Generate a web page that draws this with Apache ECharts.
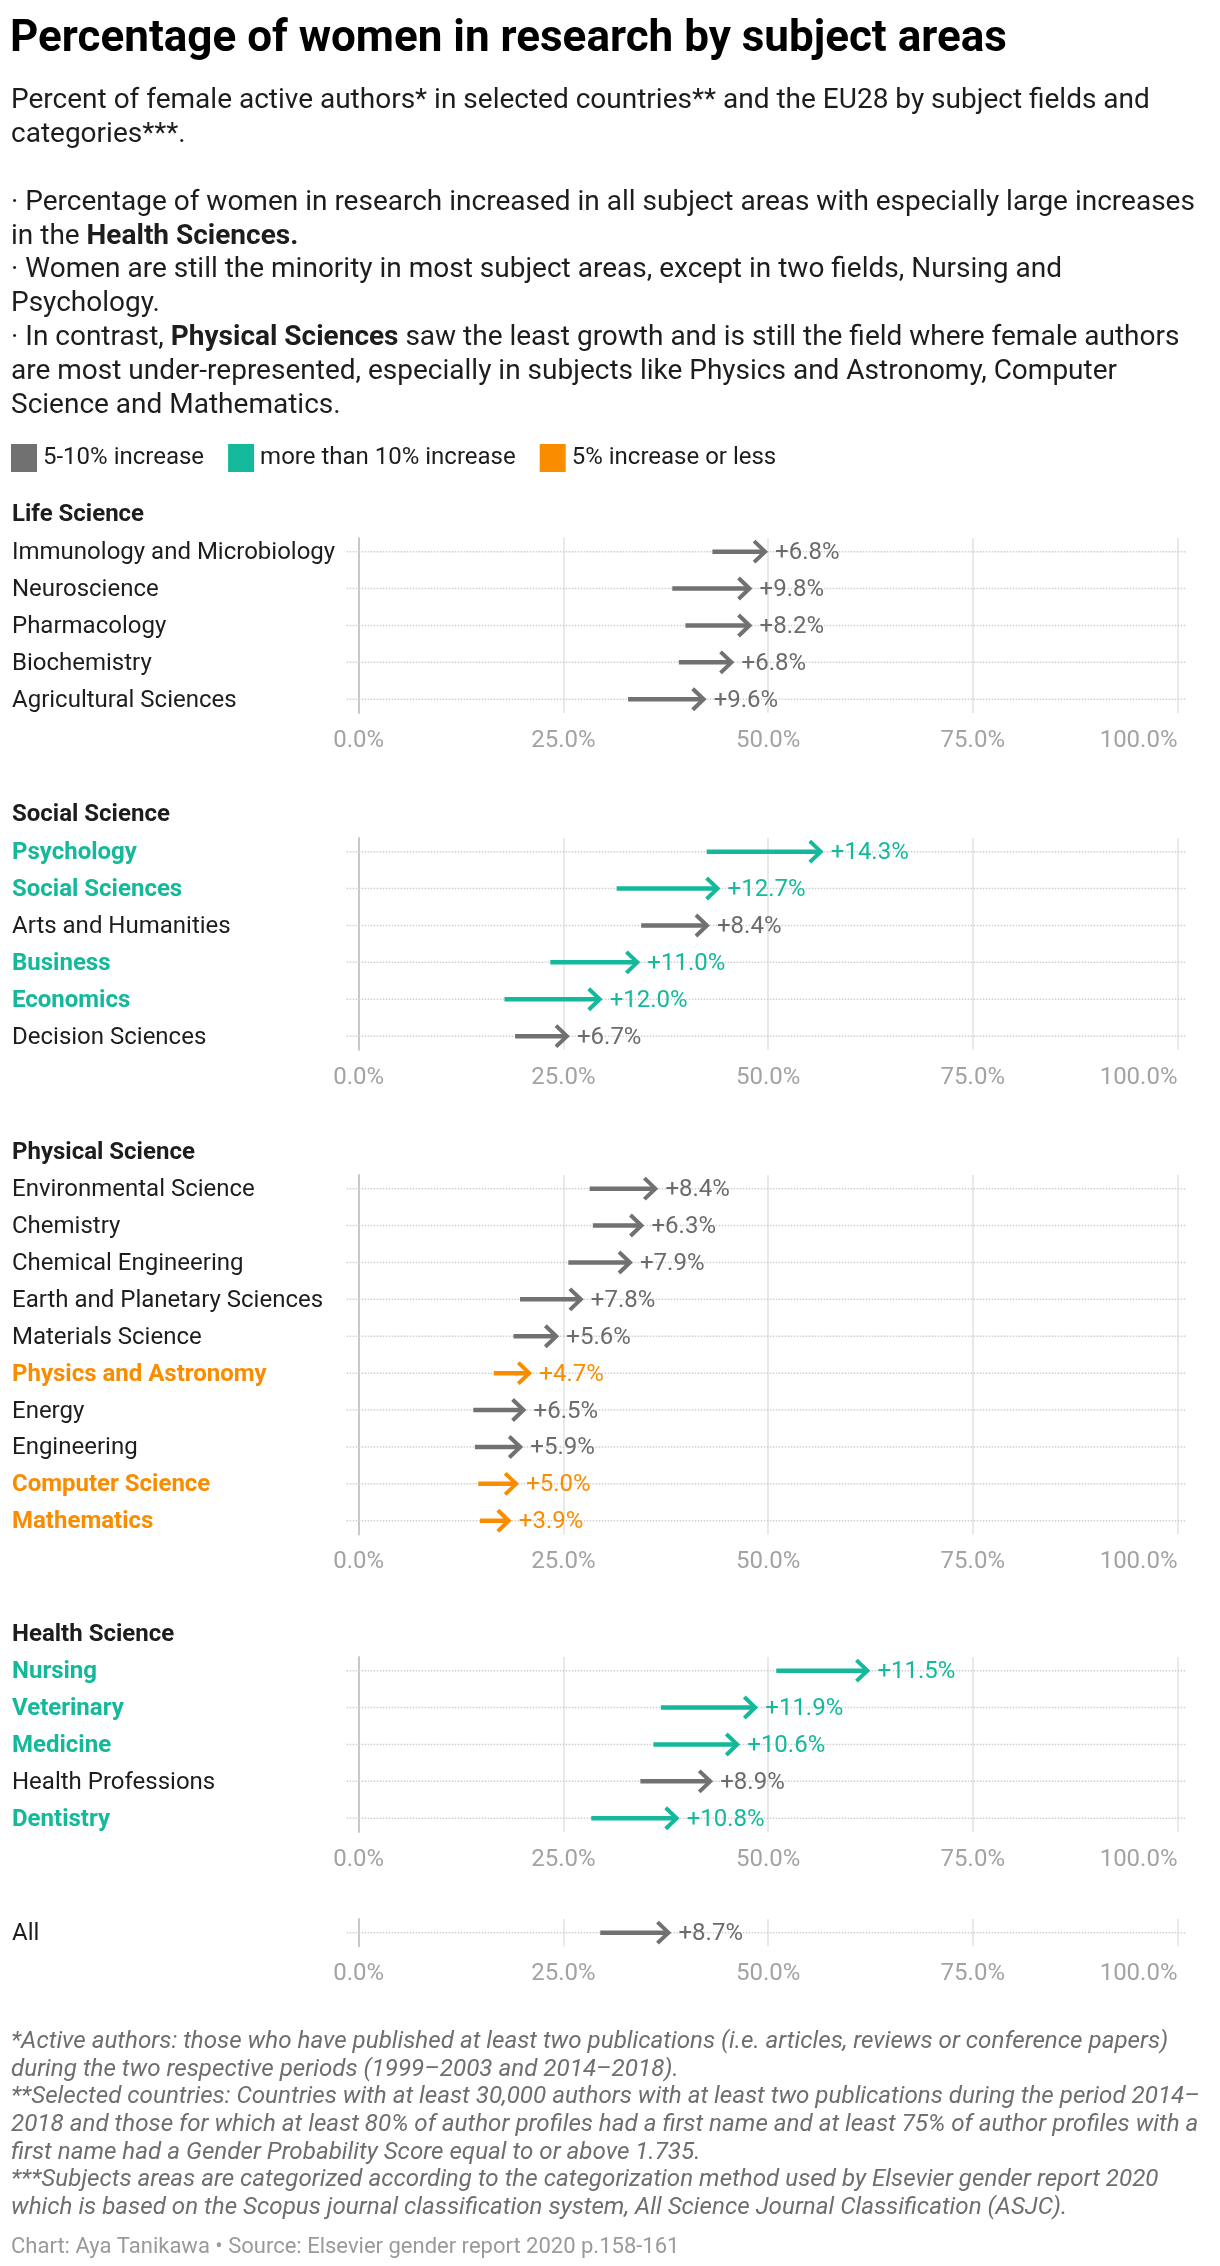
<!DOCTYPE html>
<html>
<head>
<meta charset="utf-8">
<script src="https://cdn.jsdelivr.net/npm/echarts@6/dist/echarts.min.js"></script>
<style>
html,body{margin:0;padding:0;background:#fff;}
#chart{width:1220px;height:2266px;}
</style>
</head>
<body>
<div id="chart"></div>
<script>
// ---------- DATA (percent of female active authors: 1999-2003 -> 2014-2018) ----------
const lifeCategories = ['Immunology and Microbiology','Neuroscience','Pharmacology','Biochemistry','Agricultural Sciences'];
const lifeStart  = [43.2, 38.3, 39.9, 39.1, 32.9];
const lifeEnd    = [50.0, 48.1, 48.1, 45.9, 42.5];
const lifeChange = [6.8, 9.8, 8.2, 6.8, 9.6];

const socialCategories = ['Psychology','Social Sciences','Arts and Humanities','Business','Economics','Decision Sciences'];
const socialStart  = [42.5, 31.5, 34.5, 23.4, 17.8, 19.1];
const socialEnd    = [56.8, 44.2, 42.9, 34.4, 29.8, 25.8];
const socialChange = [14.3, 12.7, 8.4, 11.0, 12.0, 6.7];

const physicalCategories = ['Environmental Science','Chemistry','Chemical Engineering','Earth and Planetary Sciences','Materials Science','Physics and Astronomy','Energy','Engineering','Computer Science','Mathematics'];
const physicalStart  = [28.2, 28.6, 25.6, 19.7, 18.9, 16.5, 14.0, 14.2, 14.6, 14.8];
const physicalEnd    = [36.6, 34.9, 33.5, 27.5, 24.5, 21.2, 20.5, 20.1, 19.6, 18.7];
const physicalChange = [8.4, 6.3, 7.9, 7.8, 5.6, 4.7, 6.5, 5.9, 5.0, 3.9];

const healthCategories = ['Nursing','Veterinary','Medicine','Health Professions','Dentistry'];
const healthStart  = [51.0, 36.9, 36.0, 34.4, 28.4];
const healthEnd    = [62.5, 48.8, 46.6, 43.3, 39.2];
const healthChange = [11.5, 11.9, 10.6, 8.9, 10.8];

const allCategories = ['All'];
const allStart  = [29.5];
const allEnd    = [38.2];
const allChange = [8.7];

const xTickValues = [0, 25, 50, 75, 100];
const legendNames = ['5-10% increase', 'more than 10% increase', '5% increase or less'];
const panelTitles = ['Life Science', 'Social Science', 'Physical Science', 'Health Science', ''];

// ---------- STYLE ----------
const FONT = 'Roboto';
const COLORS = { gray: '#717171', teal: '#13b99a', orange: '#fa8c00' };
const LEGEND_COLORS = [COLORS.gray, COLORS.teal, COLORS.orange];
function bucket(c) { return c > 10 ? 'teal' : (c > 5 ? 'gray' : 'orange'); }

const ROW = 36.9, PAD = 0.37;
const GRID_LEFT = 358.7, GRID_RIGHT = 42.5;
const TEXT_DY = 1.5;

const panels = [
  { title: panelTitles[0], headerY: 515,  top: 538,  cats: lifeCategories,     start: lifeStart,     end: lifeEnd,     change: lifeChange },
  { title: panelTitles[1], headerY: 815,  top: 838,  cats: socialCategories,   start: socialStart,   end: socialEnd,   change: socialChange },
  { title: panelTitles[2], headerY: 1153, top: 1175, cats: physicalCategories, start: physicalStart, end: physicalEnd, change: physicalChange },
  { title: panelTitles[3], headerY: 1635, top: 1657, cats: healthCategories,   start: healthStart,   end: healthEnd,   change: healthChange },
  { title: panelTitles[4], headerY: 0,    top: 1919, cats: allCategories,      start: allStart,      end: allEnd,      change: allChange }
];

const grid = [], xAxis = [], yAxis = [], series = [];
const titles = [];

titles.push({
  text: 'Percentage of women in research by subject areas',
  left: 10, top: 16, padding: 0,
  textStyle: { fontFamily: FONT, fontSize: 44, fontWeight: 'bold', color: '#000', lineHeight: 48 }
});

const subLines = [
  'Percent of female active authors* in selected countries** and the EU28 by subject fields and',
  'categories***.',
  ' ',
  '· Percentage of women in research increased in all subject areas with especially large increases',
  'in the {b|Health Sciences.}',
  '· Women are still the minority in most subject areas, except in two fields, Nursing and',
  'Psychology.',
  '· In contrast, {b|Physical Sciences} saw the least growth and is still the field where female authors',
  'are most under-represented, especially in subjects like Physics and Astronomy, Computer',
  'Science and Mathematics.'
];
titles.push({
  text: subLines.join('\n'),
  left: 11, top: 84, padding: 0,
  textStyle: {
    fontFamily: FONT, fontSize: 28, fontWeight: 'normal', color: '#1d1d1d', lineHeight: 33.9,
    rich: { b: { fontFamily: FONT, fontSize: 28, fontWeight: 'bold', color: '#1d1d1d', lineHeight: 33.9 } }
  }
});

panels.forEach((p, i) => {
  const n = p.cats.length;
  if (p.title) {
    titles.push({
      text: p.title, left: 12, top: p.headerY - 13, padding: 0,
      textStyle: { fontFamily: FONT, fontSize: 24, fontWeight: 'bold', color: '#1d1d1d', lineHeight: 26 }
    });
  }
  grid.push({ left: GRID_LEFT, right: GRID_RIGHT, top: p.top, height: (n - 1 + 2 * PAD) * ROW, containLabel: false });
  xAxis.push({
    gridIndex: i, type: 'value', min: xTickValues[0], max: xTickValues[xTickValues.length - 1], interval: 25,
    axisLine: { show: false }, axisTick: { show: false },
    splitLine: { show: true, lineStyle: { color: '#e2e2e2', width: 1.5 } },
    axisLabel: {
      formatter: v => v.toFixed(1) + '%', color: '#a3a3a3', fontFamily: FONT, fontSize: 24,
      margin: 16, alignMaxLabel: 'right'
    }
  });
  yAxis.push({
    gridIndex: i, type: 'value', inverse: true, min: -PAD, max: n - 1 + PAD,
    axisLine: { show: true, onZero: false, lineStyle: { color: '#c8c8c8', width: 2 } },
    axisTick: { show: false }, axisLabel: { show: false }, splitLine: { show: false }
  });
  const data = p.cats.map((c, j) => [p.start[j], p.end[j], j, p.change[j]]);
  series.push({
    type: 'custom', xAxisIndex: i, yAxisIndex: i, name: 'panel' + i,
    encode: { x: [0, 1], y: 2 },
    data: data,
    silent: true,
    renderItem: (params, api) => {
      const j = params.dataIndex;
      const s = api.coord([api.value(0), api.value(2)]);
      const e = api.coord([api.value(1), api.value(2)]);
      const ch = api.value(3);
      const b = bucket(ch);
      const col = COLORS[b];
      const cs = params.coordSys;
      const y = s[1];
      const name = p.cats[j];
      return {
        type: 'group',
        children: [
          { type: 'line', z2: 0, shape: { x1: cs.x - 12, y1: y, x2: cs.x + cs.width + 8, y2: y },
            style: { stroke: '#cfcfcf', lineWidth: 1.5, lineDash: [1.5, 1.5] } },
          { type: 'line', z2: 2, shape: { x1: s[0], y1: y, x2: e[0] - 3, y2: y },
            style: { stroke: col, lineWidth: 4.5, lineCap: 'butt' } },
          { type: 'polyline', z2: 2, shape: { points: [[e[0] - 14, y - 10.5], [e[0] - 3, y], [e[0] - 14, y + 10.5]] },
            style: { stroke: col, lineWidth: 4, fill: null, lineJoin: 'miter', lineCap: 'butt' } },
          { type: 'text', z2: 3, x: e[0] + 7, y: y + TEXT_DY,
            style: { text: '+' + ch.toFixed(1) + '%', fill: b === 'gray' ? '#6b6b6b' : col,
              fontFamily: FONT, fontSize: 24, align: 'left', verticalAlign: 'middle' } },
          { type: 'text', z2: 3, x: 12, y: y + TEXT_DY,
            style: { text: name, fill: b === 'gray' ? '#1d1d1d' : col, fontFamily: FONT, fontSize: 24,
              fontWeight: b === 'gray' ? 'normal' : 'bold', align: 'left', verticalAlign: 'middle' } }
        ]
      };
    }
  });
});

// legend entries (empty series carrying the legend colours)
legendNames.forEach((nm, k) => {
  series.push({ type: 'scatter', name: nm, xAxisIndex: 0, yAxisIndex: 0, data: [], itemStyle: { color: LEGEND_COLORS[k], opacity: 1 } });
});

const footLines = [
  '*Active authors: those who have published at least two publications (i.e. articles, reviews or conference papers)',
  'during the two respective periods (1999–2003 and 2014–2018).',
  '**Selected countries: Countries with at least 30,000 authors with at least two publications during the period 2014–',
  '2018 and those for which at least 80% of author profiles had a first name and at least 75% of author profiles with a',
  'first name had a Gender Probability Score equal to or above 1.735.',
  '***Subjects areas are categorized according to the categorization method used by Elsevier gender report 2020',
  'which is based on the Scopus journal classification system, All Science Journal Classification (ASJC).'
];
titles.push({
  text: footLines.join('\n'), left: 11, top: 2028, padding: 0,
  textStyle: { fontFamily: FONT, fontSize: 24.2, fontStyle: 'italic', fontWeight: 'normal', color: '#6e6e6e', lineHeight: 27.7 }
});
titles.push({
  text: 'Chart: Aya Tanikawa • Source: Elsevier gender report 2020 p.158-161',
  left: 11, top: 2235, padding: 0,
  textStyle: { fontFamily: FONT, fontSize: 22, fontWeight: 'normal', color: '#9a9a9a', lineHeight: 24 }
});

const option = {
  backgroundColor: '#fff',
  animation: false,
  title: titles,
  legend: {
    data: legendNames.map(n => ({ name: n, icon: 'rect', itemStyle: { opacity: 1 } })),
    left: 11, top: 444, padding: 0, itemWidth: 26, itemHeight: 28, itemGap: 24,
    selectedMode: false,
    textStyle: { fontFamily: FONT, fontSize: 24, color: '#1d1d1d', padding: [0, 0, 0, 1] }
  },
  grid, xAxis, yAxis, series
};

const chart = echarts.init(document.getElementById('chart'), null, { renderer: 'canvas' });
chart.setOption(option);
</script>
</body>
</html>
